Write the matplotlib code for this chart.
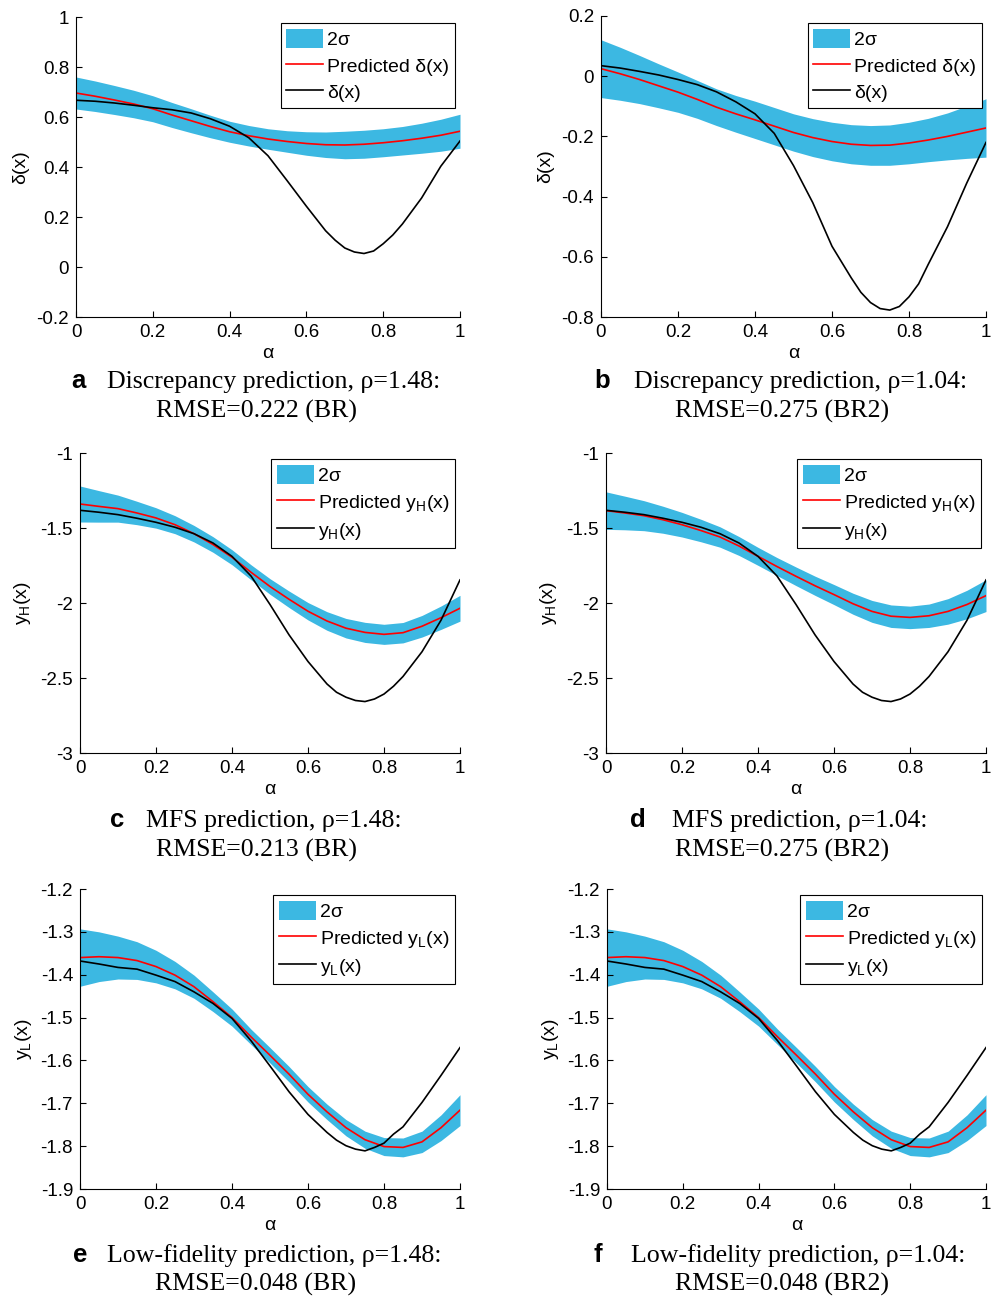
import matplotlib
matplotlib.use('Agg')
import matplotlib.pyplot as plt
from matplotlib.ticker import FuncFormatter

plt.rcParams['font.family'] = ['Liberation Sans', 'DejaVu Sans']
plt.rcParams['mathtext.fontset'] = 'custom'
plt.rcParams['mathtext.rm'] = 'Liberation Sans'
plt.rcParams['mathtext.it'] = 'Liberation Sans:italic'
plt.rcParams['mathtext.bf'] = 'Liberation Sans:bold'

# grid of the predictions
alpha = [0.0, 0.05, 0.1, 0.15, 0.2, 0.25, 0.3, 0.35, 0.4, 0.45, 0.5,
         0.55, 0.6, 0.65, 0.7, 0.75, 0.8, 0.85, 0.9, 0.95, 1.0]
# grid of the true functions (denser around the minimum)
alpha_true = [0.0, 0.05, 0.1, 0.15, 0.2, 0.25, 0.3, 0.35, 0.4, 0.45, 0.5, 0.55, 0.6,
              0.65, 0.675, 0.7, 0.725, 0.75, 0.775, 0.8, 0.825, 0.85, 0.9, 0.95, 1.0]

# discrepancy, BR (rho = 1.48)
delta_true_br = [0.667, 0.663, 0.656, 0.647, 0.637, 0.629, 0.616, 0.593, 0.563, 0.517, 0.445, 0.345, 0.243,
                 0.145, 0.107, 0.076, 0.06, 0.054, 0.064, 0.093, 0.128, 0.172, 0.276, 0.403, 0.504]
delta_pred_br = [0.696, 0.683, 0.668, 0.652, 0.633, 0.608, 0.585, 0.562, 0.541, 0.525, 0.512,
                 0.502, 0.494, 0.489, 0.488, 0.491, 0.497, 0.505, 0.515, 0.527, 0.543]
delta_2sig_br = [0.064, 0.061, 0.058, 0.055, 0.052, 0.05, 0.048, 0.045, 0.042, 0.041, 0.041,
                 0.043, 0.047, 0.051, 0.055, 0.056, 0.056, 0.057, 0.06, 0.064, 0.068]

# discrepancy, BR2 (rho = 1.04)
delta_true_br2 = [0.035, 0.027, 0.016, 0.004, -0.011, -0.028, -0.052, -0.085, -0.125, -0.19, -0.297, -0.42, -0.565,
                  -0.67, -0.718, -0.752, -0.772, -0.777, -0.765, -0.733, -0.69, -0.625, -0.5, -0.355, -0.22]
delta_pred_br2 = [0.025, 0.008, -0.011, -0.032, -0.053, -0.077, -0.103, -0.125, -0.145, -0.166, -0.187,
                  -0.204, -0.217, -0.226, -0.23, -0.229, -0.222, -0.212, -0.2, -0.186, -0.172]
delta_2sig_br2 = [0.096, 0.088, 0.08, 0.073, 0.067, 0.063, 0.061, 0.061, 0.062, 0.062, 0.062,
                  0.063, 0.064, 0.065, 0.066, 0.067, 0.069, 0.072, 0.078, 0.087, 0.097]

# high fidelity truth and MFS predictions
yh_true = [-1.382, -1.395, -1.411, -1.435, -1.462, -1.495, -1.538, -1.6, -1.689, -1.82, -2.01, -2.212, -2.39,
           -2.54, -2.595, -2.628, -2.65, -2.657, -2.64, -2.607, -2.555, -2.49, -2.325, -2.115, -1.846]
yh_pred_br = [-1.34, -1.356, -1.371, -1.4, -1.433, -1.478, -1.538, -1.61, -1.695, -1.795, -1.89,
              -1.975, -2.055, -2.12, -2.168, -2.196, -2.209, -2.198, -2.155, -2.098, -2.035]
yh_2sig_br = [0.12, 0.105, 0.09, 0.078, 0.068, 0.06, 0.055, 0.052, 0.05, 0.05, 0.052,
              0.055, 0.058, 0.062, 0.065, 0.067, 0.067, 0.068, 0.072, 0.078, 0.086]
yh_pred_br2 = [-1.384, -1.4, -1.418, -1.445, -1.478, -1.517, -1.56, -1.62, -1.689, -1.757, -1.822,
               -1.885, -1.944, -2.005, -2.056, -2.088, -2.096, -2.085, -2.056, -2.01, -1.951]
yh_2sig_br2 = [0.125, 0.112, 0.1, 0.09, 0.082, 0.075, 0.068, 0.063, 0.06, 0.06, 0.062,
               0.064, 0.067, 0.07, 0.073, 0.075, 0.075, 0.078, 0.085, 0.095, 0.106]

# low fidelity truth and prediction (same for both models)
yl_true = [-1.368, -1.375, -1.383, -1.387, -1.401, -1.416, -1.44, -1.467, -1.502, -1.554, -1.613, -1.673, -1.726,
           -1.768, -1.786, -1.799, -1.807, -1.811, -1.803, -1.793, -1.772, -1.755, -1.698, -1.635, -1.57]
yl_pred = [-1.36, -1.358, -1.36, -1.367, -1.381, -1.401, -1.428, -1.463, -1.5, -1.545, -1.588,
           -1.632, -1.679, -1.72, -1.757, -1.785, -1.801, -1.803, -1.79, -1.757, -1.716]
yl_2sig = [0.067, 0.058, 0.05, 0.044, 0.038, 0.032, 0.027, 0.023, 0.02, 0.018, 0.018,
           0.018, 0.018, 0.018, 0.019, 0.02, 0.021, 0.022, 0.025, 0.03, 0.036]

captions = [
    ('a', 'Discrepancy prediction, ρ=1.48:', 'RMSE=0.222 (BR)'),
    ('b', 'Discrepancy prediction, ρ=1.04:', 'RMSE=0.275 (BR2)'),
    ('c', 'MFS prediction, ρ=1.48:', 'RMSE=0.213 (BR)'),
    ('d', 'MFS prediction, ρ=1.04:', 'RMSE=0.275 (BR2)'),
    ('e', 'Low-fidelity prediction, ρ=1.48:', 'RMSE=0.048 (BR)'),
    ('f', 'Low-fidelity prediction, ρ=1.04:', 'RMSE=0.048 (BR2)'),
]

BAND = '#3cb8e2'
W, H = 997, 1299

fig = plt.figure(figsize=(W / 100, H / 100), dpi=100)


def px_axes(left, right, top, bottom):
    return fig.add_axes([left / W, 1 - bottom / H, (right - left) / W, (bottom - top) / H])


def draw(ax, pred, sig, truth, ylim, ystep, name, leg_xy):
    lo = [p - s for p, s in zip(pred, sig)]
    hi = [p + s for p, s in zip(pred, sig)]
    ax.fill_between(alpha, lo, hi, color=BAND, lw=0, label='2σ')
    ax.plot(alpha, pred, color='red', lw=1.2, label='Predicted ' + name)
    ax.plot(alpha_true, truth, color='black', lw=1.2, label=name)
    ax.set_xlim(0, 1)
    ax.set_ylim(*ylim)
    n = int(round((ylim[1] - ylim[0]) / ystep))
    ax.set_yticks([ylim[0] + i * ystep for i in range(n + 1)])
    ax.set_xticks([0, 0.2, 0.4, 0.6, 0.8, 1])
    fmt = FuncFormatter(lambda v, p: '%g' % round(v, 4))
    ax.xaxis.set_major_formatter(fmt)
    ax.yaxis.set_major_formatter(fmt)
    ax.spines['top'].set_visible(False)
    ax.spines['right'].set_visible(False)
    ax.tick_params(direction='in', length=4, labelsize=13.5, pad=5)
    ax.set_xlabel('α', fontsize=14, labelpad=3)
    ax.set_ylabel(name, fontsize=14, labelpad=5)
    leg = ax.legend(loc='upper right', bbox_to_anchor=(leg_xy[0] / W, 1 - leg_xy[1] / H),
                    bbox_transform=fig.transFigure, borderaxespad=0, fontsize=14,
                    fancybox=False, framealpha=1, edgecolor='black',
                    handlelength=1.9, handleheight=1.1, labelspacing=0.35,
                    handletextpad=0.2, borderpad=0.3)
    leg.get_frame().set_linewidth(0.8)


dname = 'δ(x)'
hname = r'y$_{\mathrm{H}}$(x)'
lname = r'y$_{\mathrm{L}}$(x)'

ax = px_axes(76, 460, 17, 317)
draw(ax, delta_pred_br, delta_2sig_br, delta_true_br, (-0.2, 1), 0.2, dname, (455, 23))
ax = px_axes(601, 986, 16, 317)
draw(ax, delta_pred_br2, delta_2sig_br2, delta_true_br2, (-0.8, 0.2), 0.2, dname, (982, 23))
ax = px_axes(80, 460, 453, 753)
draw(ax, yh_pred_br, yh_2sig_br, yh_true, (-3, -1), 0.5, hname, (455, 459))
ax = px_axes(606, 986, 453, 753)
draw(ax, yh_pred_br2, yh_2sig_br2, yh_true, (-3, -1), 0.5, hname, (981, 459))
ax = px_axes(80, 460, 889, 1189)
draw(ax, yl_pred, yl_2sig, yl_true, (-1.9, -1.2), 0.1, lname, (455, 895))
ax = px_axes(607, 986, 889, 1189)
draw(ax, yl_pred, yl_2sig, yl_true, (-1.9, -1.2), 0.1, lname, (982, 895))

# captions under each panel: bold letter plus two serif lines
cap_pos = [
    (78, 274, 256, 388, 418),
    (602, 801, 782, 388, 418),
    (117, 274, 257, 827, 857),
    (638, 800, 782, 827, 857),
    (80, 274, 256, 1262, 1291),
    (598, 798, 782, 1262, 1291),
]
for (letter, l1, l2), (xl, x1, x2, y1, y2) in zip(captions, cap_pos):
    fig.text(xl / W, 1 - y1 / H, letter, ha='center', va='baseline',
             fontsize=18.5, fontweight='bold')
    fig.text(x1 / W, 1 - y1 / H, l1, ha='center', va='baseline',
             fontsize=18.6, family='Liberation Serif')
    fig.text(x2 / W, 1 - y2 / H, l2, ha='center', va='baseline',
             fontsize=18.6, family='Liberation Serif')

fig.savefig('out.png', dpi=100)
